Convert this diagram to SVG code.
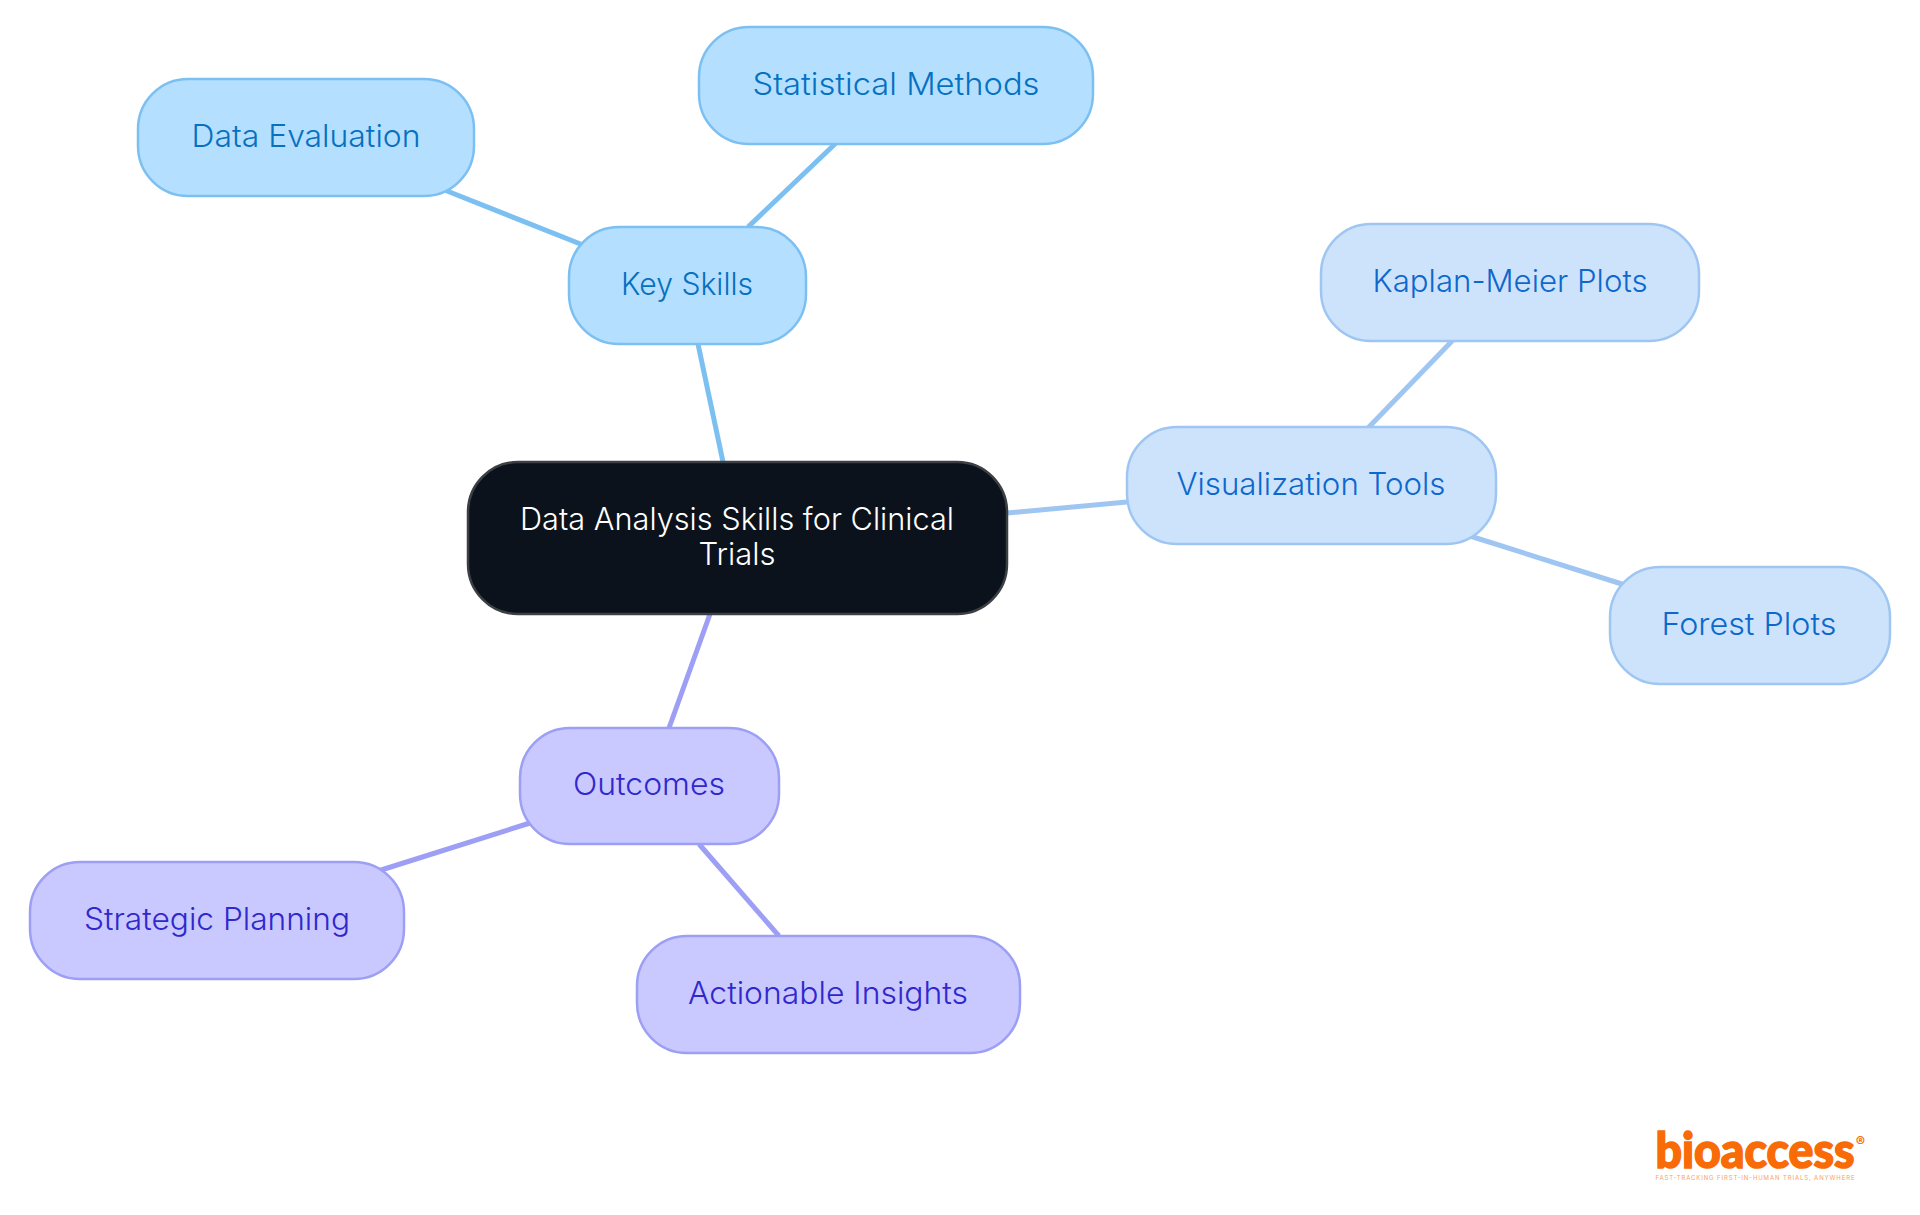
<svg xmlns="http://www.w3.org/2000/svg" width="1920" height="1215" viewBox="0 0 1920 1215">
<style>
text{font-family:"Inter","Noto Sans","Liberation Sans",sans-serif;font-size:31px;font-weight:350;text-anchor:middle}
.c{fill:none;stroke-width:5}
.b{stroke:#7cc0f2}.v{stroke:#9fc6f3}.p{stroke:#9d9ff5}
.nb rect{fill:#b5dfff;stroke:#7cc0f2;stroke-width:2.5}.nb text{fill:#0670c1}
.nv rect{fill:#cde3fc;stroke:#9fc6f3;stroke-width:2.5}.nv text{fill:#0e68cc}
.np rect{fill:#c9c9ff;stroke:#9d9ff5;stroke-width:2.5}.np text{fill:#3028cc}
</style>
<rect width="1920" height="1215" fill="#fff"/>
<g id="connectors">
<path class="c b" d="M723 462L698 344"/>
<path class="c b" d="M748 227L836 143"/>
<path class="c b" d="M583 245L442 189"/>
<path class="c v" d="M1007 513L1127 502"/>
<path class="c v" d="M1368 428L1453 340"/>
<path class="c v" d="M1470 536L1625 585"/>
<path class="c p" d="M710 614L669 728"/>
<path class="c p" d="M530 823L378 871"/>
<path class="c p" d="M699 844L779 936"/>
</g>
<g id="root"><rect x="468" y="462" width="539" height="152" rx="50" fill="#0b121b" stroke="#3c3f44" stroke-width="2.5"/>
<text x="737" y="530" fill="#fff" textLength="434" lengthAdjust="spacingAndGlyphs">Data Analysis Skills for Clinical</text><text x="737" y="565" fill="#fff" textLength="77" lengthAdjust="spacingAndGlyphs">Trials</text></g>
<g id="key-skills" class="nb"><rect x="569" y="227" width="237" height="117" rx="50"/><text x="687" y="295" textLength="132" lengthAdjust="spacingAndGlyphs">Key Skills</text></g>
<g id="statistical-methods" class="nb"><rect x="699" y="27" width="394" height="117" rx="50"/><text x="896" y="95" textLength="287" lengthAdjust="spacingAndGlyphs">Statistical Methods</text></g>
<g id="data-evaluation" class="nb"><rect x="138" y="79" width="336" height="117" rx="50"/><text x="306" y="147" textLength="229" lengthAdjust="spacingAndGlyphs">Data Evaluation</text></g>
<g id="visualization-tools" class="nv"><rect x="1127" y="427" width="369" height="117" rx="50"/><text x="1311" y="495" textLength="269" lengthAdjust="spacingAndGlyphs">Visualization Tools</text></g>
<g id="kaplan-meier" class="nv"><rect x="1321" y="224" width="378" height="117" rx="50"/><text x="1510" y="292" textLength="275" lengthAdjust="spacingAndGlyphs">Kaplan-Meier Plots</text></g>
<g id="forest-plots" class="nv"><rect x="1610" y="567" width="280" height="117" rx="50"/><text x="1749" y="635" textLength="175" lengthAdjust="spacingAndGlyphs">Forest Plots</text></g>
<g id="outcomes" class="np"><rect x="520" y="728" width="259" height="116" rx="50"/><text x="649" y="795" textLength="152" lengthAdjust="spacingAndGlyphs">Outcomes</text></g>
<g id="strategic-planning" class="np"><rect x="30" y="862" width="374" height="117" rx="50"/><text x="217" y="930" textLength="266" lengthAdjust="spacingAndGlyphs">Strategic Planning</text></g>
<g id="actionable-insights" class="np"><rect x="637" y="936" width="383" height="117" rx="50"/><text x="828" y="1004" textLength="280" lengthAdjust="spacingAndGlyphs">Actionable Insights</text></g>
<g id="logo">
<text x="1755" y="1168" style="font-family:Lato,'Open Sans',sans-serif;font-size:49px;font-weight:900;fill:#f96b06;stroke:#f96b06;stroke-width:1.6" textLength="199" lengthAdjust="spacingAndGlyphs">bioaccess</text>
<text x="1860.5" y="1147" style="font-size:14px;font-weight:700;fill:#f96b06">®</text>
<text x="1755" y="1180" style="font-size:6px;font-weight:400;fill:#f9a066" textLength="199" lengthAdjust="spacing">FAST-TRACKING FIRST-IN-HUMAN TRIALS, ANYWHERE</text>
</g>
</svg>
